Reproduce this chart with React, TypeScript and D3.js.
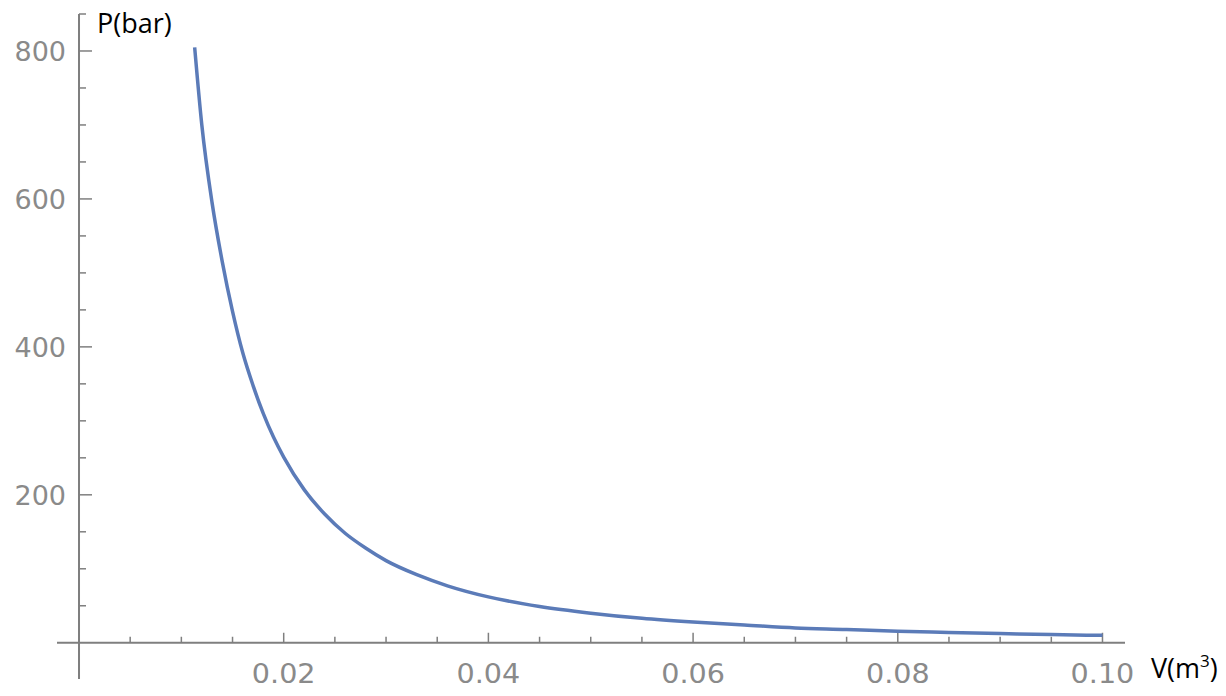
import React from "react";
import * as d3 from "d3";

// Volume (m^3) and pressure (bar)
const volumes = [0.0113, 0.012, 0.013, 0.014, 0.015, 0.016, 0.017, 0.018, 0.019, 0.02, 0.022, 0.024, 0.026, 0.028, 0.03, 0.033, 0.036, 0.04, 0.045, 0.05, 0.055, 0.06, 0.065, 0.07, 0.075, 0.08, 0.085, 0.09, 0.095, 0.1];
const pressures = [805, 700, 595, 515, 448, 392, 348, 310, 278, 251, 207, 174, 148, 128, 111, 92, 77, 62, 49, 40, 33, 28, 24, 20, 18, 15.5, 14, 12.5, 11, 10];

const xMajorTicks = [0.02, 0.04, 0.06, 0.08, 0.1];
const xMajorLabels = ["0.02", "0.04", "0.06", "0.08", "0.10"];
const xMinorTicks = [0.005, 0.01, 0.015, 0.025, 0.03, 0.035, 0.045, 0.05, 0.055, 0.065, 0.07, 0.075, 0.085, 0.09, 0.095];
const yMajorTicks = [200, 400, 600, 800];
const yMajorLabels = ["200", "400", "600", "800"];
const yMinorTicks = [50, 100, 150, 250, 300, 350, 450, 500, 550, 650, 700, 750, 850];

const xDomain = [-0.00215, 0.1022];
const yDomain = [-49, 850];

export default function App() {
  const W = 1226;
  const H = 696;
  const x = d3.scaleLinear().domain(xDomain).range([57, 1125]);
  const y = d3.scaleLinear().domain(yDomain).range([679, 14]);
  const x0 = x(0);
  const y0 = y(0);

  const pts = volumes.map((v, i) => [v, pressures[i]] as [number, number]);
  const line = d3
    .line<[number, number]>()
    .x((d) => x(d[0]))
    .y((d) => y(d[1]))
    .curve(d3.curveMonotoneX);

  const axisColor = "#7f7f7f";
  const labelColor = "#8a8a8a";
  const tickFont = "'DejaVu Sans', sans-serif";

  return (
    <svg
      width={W}
      height={H}
      style={{ position: "absolute", left: 0, top: 0, background: "#fff" }}
    >
      {/* axes */}
      <line x1={x(xDomain[0])} x2={x(xDomain[1])} y1={y0} y2={y0} stroke={axisColor} strokeWidth={2} />
      <line x1={x0} x2={x0} y1={y(yDomain[0])} y2={y(yDomain[1])} stroke={axisColor} strokeWidth={2} />

      {/* x ticks */}
      {xMinorTicks.map((t) => (
        <line key={"xm" + t} x1={x(t)} x2={x(t)} y1={y0} y2={y0 - 6} stroke={axisColor} strokeWidth={1.5} />
      ))}
      {xMajorTicks.map((t, i) => (
        <g key={"xM" + t}>
          <line x1={x(t)} x2={x(t)} y1={y0} y2={y0 - 10} stroke={axisColor} strokeWidth={1.5} />
          <text
            x={x(t)}
            y={683}
            textAnchor="middle"
            fontFamily={tickFont}
            fontSize={27}
            fill={labelColor}
            transform={`translate(${x(t)},0) scale(1.06,1) translate(${-x(t)},0)`}
          >
            {xMajorLabels[i]}
          </text>
        </g>
      ))}

      {/* y ticks */}
      {yMinorTicks.map((t) => (
        <line key={"ym" + t} x1={x0} x2={x0 + 7} y1={y(t)} y2={y(t)} stroke={axisColor} strokeWidth={1.5} />
      ))}
      {yMajorTicks.map((t, i) => (
        <g key={"yM" + t}>
          <line x1={x0} x2={x0 + 13} y1={y(t)} y2={y(t)} stroke={axisColor} strokeWidth={1.5} />
          <text
            x={66}
            y={y(t)}
            dy="0.36em"
            textAnchor="end"
            fontFamily={tickFont}
            fontSize={27}
            fill={labelColor}
          >
            {yMajorLabels[i]}
          </text>
        </g>
      ))}

      {/* curve */}
      <path d={line(pts) || ""} fill="none" stroke="#5b7bb8" strokeWidth={3.5} strokeLinecap="butt" />

      {/* axis titles */}
      <text x={97} y={33} fontFamily="'Open Sans', sans-serif" fontSize={27} fill="#000">
        P(bar)
      </text>
      <text x={1151} y={678} fontFamily="'Open Sans', sans-serif" fontSize={27} fill="#000">
        V(m
        <tspan fontSize={17} dy={-11}>3</tspan>
        <tspan dy={11}>)</tspan>
      </text>
    </svg>
  );
}
